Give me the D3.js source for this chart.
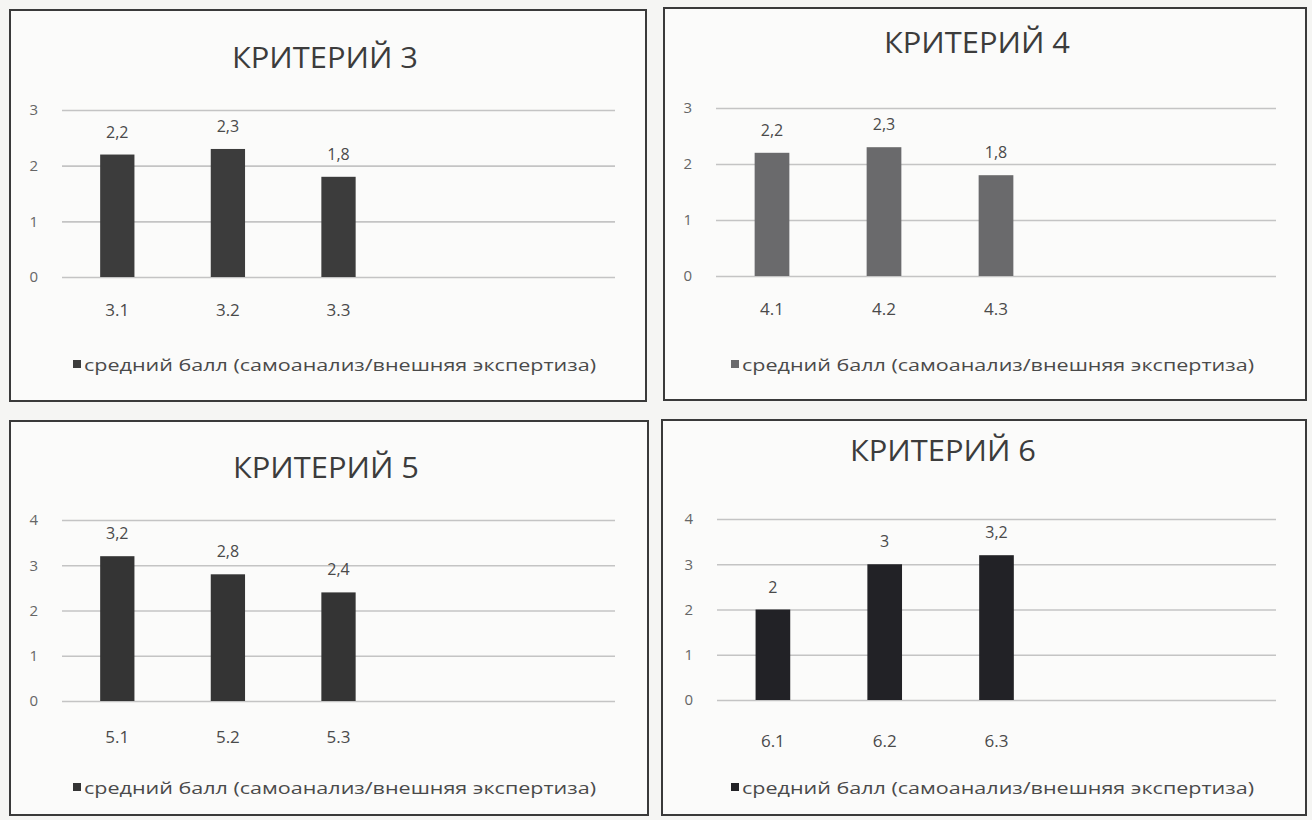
<!DOCTYPE html>
<html>
<head>
<meta charset="utf-8">
<script src="https://cdn.jsdelivr.net/npm/d3@7"></script>
<style>
  body { margin: 0; background: #f5f5f3; }
  svg { display: block; }
  text { font-family: "Open Sans", "Lato", sans-serif; }
</style>
</head>
<body>
<script>
// data
const titles = ["КРИТЕРИЙ 3", "КРИТЕРИЙ 4", "КРИТЕРИЙ 5", "КРИТЕРИЙ 6"];
const categories = [
    ["3.1", "3.2", "3.3"],
    ["4.1", "4.2", "4.3"],
    ["5.1", "5.2", "5.3"],
    ["6.1", "6.2", "6.3"]
];
const values3 = [2.2, 2.3, 1.8];
const values4 = [2.2, 2.3, 1.8];
const values5 = [3.2, 2.8, 2.4];
const values6 = [2, 3, 3.2];
const yMax = [3, 3, 4, 4];
const seriesName = "средний балл (самоанализ/внешняя экспертиза)";

const values = [values3, values4, values5, values6];

// layout of each panel (box, plot area, title position)
const panels = [
    {box: [10, 10, 646, 401], plot: [62, 615, 110, 277], titleX: 325, titleY: 68, xLab: 316, legX: 73, legY: 371, color: "#3c3c3c"},
    {box: [664, 8, 1306, 400], plot: [716, 1276, 108, 276], titleX: 977, titleY: 53, xLab: 315, legX: 731, legY: 371, color: "#6a6a6c"},
    {box: [10, 421, 648, 815], plot: [62, 615, 520, 701], titleX: 326, titleY: 478, xLab: 743, legX: 73, legY: 794, color: "#343434"},
    {box: [662, 420, 1306, 815], plot: [717, 1276, 519, 700], titleX: 943, titleY: 461, xLab: 747, legX: 731, legY: 794, color: "#222226"}
];

const width = 1312;
const height = 820;
const slots = 5;

const ru = d3.formatLocale({decimal: ",", thousands: " ", grouping: [3], currency: ["", ""]});
const fmt = ru.format("~g");

const svg = d3.select("body").append("svg")
    .attr("width", width)
    .attr("height", height);

panels.forEach((p, i) => {
    const [bx0, by0, bx1, by1] = p.box;
    const [px0, px1, py0, py1] = p.plot;
    const g = svg.append("g");

    g.append("rect")
        .attr("x", bx0).attr("y", by0)
        .attr("width", bx1 - bx0).attr("height", by1 - by0)
        .attr("fill", "#fbfbfa")
        .attr("stroke", "#3a3a3a")
        .attr("stroke-width", 2);

    g.append("text")
        .attr("x", p.titleX).attr("y", p.titleY)
        .attr("text-anchor", "middle")
        .attr("font-size", 30)
        .attr("fill", "#3c3c3c")
        .attr("textLength", 186)
        .attr("lengthAdjust", "spacingAndGlyphs")
        .text(titles[i]);

    const x = d3.scaleBand()
        .domain(d3.range(slots))
        .range([px0, px1]);

    const y = d3.scaleLinear()
        .domain([0, yMax[i]])
        .range([py1, py0]);

    // grid + y labels
    g.append("g")
        .attr("transform", `translate(${px0},0)`)
        .call(d3.axisLeft(y).ticks(yMax[i]).tickSize(-(px1 - px0)).tickPadding(24).tickFormat(fmt))
        .call(g => g.select(".domain").remove())
        .call(g => g.selectAll(".tick line").attr("stroke", "#c4c4c4").attr("stroke-width", 1.6))
        .call(g => g.selectAll(".tick text")
            .attr("fill", "#666")
            .attr("font-size", 15)
            .attr("font-family", "'Open Sans', sans-serif"));

    const bw = x.bandwidth() * 0.31;
    const data = categories[i].map((c, j) => ({name: c, value: values[i][j], slot: j}));

    g.append("g")
        .attr("fill", p.color)
        .selectAll("rect")
        .data(data)
        .join("rect")
            .attr("x", d => x(d.slot) + (x.bandwidth() - bw) / 2)
            .attr("y", d => y(d.value))
            .attr("width", bw)
            .attr("height", d => y(0) - y(d.value));

    g.append("g")
        .selectAll("text")
        .data(data)
        .join("text")
            .attr("x", d => x(d.slot) + x.bandwidth() / 2)
            .attr("y", d => y(d.value) - 17)
            .attr("text-anchor", "middle")
            .attr("font-size", 16)
            .attr("fill", "#4a4a4a")
            .text(d => fmt(d.value));

    g.append("g")
        .selectAll("text")
        .data(data)
        .join("text")
            .attr("x", d => x(d.slot) + x.bandwidth() / 2)
            .attr("y", p.xLab)
            .attr("text-anchor", "middle")
            .attr("font-size", 17)
            .attr("fill", "#4a4a4a")
            .text(d => d.name);

    // legend
    g.append("rect")
        .attr("x", p.legX).attr("y", p.legY - 11)
        .attr("width", 8).attr("height", 8)
        .attr("fill", p.color);

    g.append("text")
        .attr("x", p.legX + 11).attr("y", p.legY)
        .attr("font-size", 16)
        .attr("fill", "#4a4a4a")
        .attr("textLength", 512)
        .attr("lengthAdjust", "spacingAndGlyphs")
        .text(seriesName);
});
</script>
</body>
</html>
